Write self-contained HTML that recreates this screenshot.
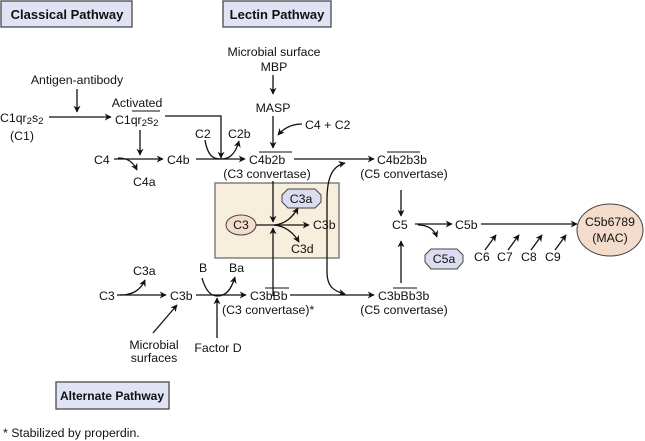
<!DOCTYPE html>
<html><head><meta charset="utf-8"><style>
html,body{margin:0;padding:0;background:#fff;}
svg{display:block;}
text{font-family:"Liberation Sans",sans-serif;font-size:12.3px;fill:#111;}
.b{font-weight:bold;font-size:13px;}
</style></head><body>
<svg width="645" height="441" viewBox="0 0 645 441" xmlns="http://www.w3.org/2000/svg">
<defs>
<marker id="a" viewBox="0 0 10 10" refX="9" refY="5" markerWidth="7" markerHeight="7" orient="auto-start-reverse" markerUnits="userSpaceOnUse"><path d="M0,0 L10,5 L0,10 L3,5 z" fill="#111"/></marker>
</defs>
<g stroke="#111" stroke-width="1.4" fill="none">
<rect x="1" y="1" width="131" height="26" fill="#dfe3f3" stroke="#555"/>
<rect x="223" y="1" width="108" height="26" fill="#dfe3f3" stroke="#555"/>
<rect x="56" y="382" width="113" height="27" fill="#dfe3f3" stroke="#555"/>
<rect x="215" y="183" width="124" height="75" fill="#f8eedc" stroke="#777"/>
</g>
<text class="b" x="67" y="19" text-anchor="middle">Classical Pathway</text>
<text class="b" x="277" y="19" text-anchor="middle">Lectin Pathway</text>
<text class="b" x="112" y="400" text-anchor="middle" style="font-size:12px">Alternate Pathway</text>

<g stroke="#111" stroke-width="1.3" fill="none">
<line x1="273" y1="75" x2="273" y2="94" marker-end="url(#a)"/>
<line x1="273" y1="116" x2="273" y2="148" marker-end="url(#a)"/>
<path d="M302,124 C292,124 284,128 278,135" marker-end="url(#a)"/>
<line x1="77" y1="89" x2="77" y2="112" marker-end="url(#a)"/>
<line x1="49" y1="117" x2="111" y2="117" marker-end="url(#a)"/>
<path d="M165,116 L221,116 L221,158" marker-end="url(#a)"/>
<line x1="140" y1="130" x2="140" y2="155" marker-end="url(#a)"/>
<line x1="114" y1="159" x2="163" y2="159" marker-end="url(#a)"/>
<path d="M118,158 C128,158 133,162 137,170" marker-end="url(#a)"/>
<line x1="196" y1="159" x2="245" y2="159" marker-end="url(#a)"/>
<path d="M205,140 C208,158 215,159 221,159 C229,159 235,155 239,141" marker-end="url(#a)"/>
<line x1="294" y1="159" x2="374" y2="159" marker-end="url(#a)"/>
<line x1="273" y1="181" x2="273" y2="222" marker-end="url(#a)"/>
<line x1="273" y1="296" x2="273" y2="228" marker-end="url(#a)"/>
<line x1="256" y1="225" x2="309" y2="225" marker-end="url(#a)"/>
<path d="M274,225 C285,224 292,218 298,208" marker-end="url(#a)"/>
<path d="M274,225 C285,226 293,232 299,242" marker-end="url(#a)"/>
<path d="M345,163 C332,166 327,178 327,200 L327,272 C327,286 333,291 345,294" marker-start="url(#a)" marker-end="url(#a)"/>
<line x1="401" y1="190" x2="401" y2="216" marker-end="url(#a)"/>
<line x1="401" y1="283" x2="401" y2="241" marker-end="url(#a)"/>
<line x1="415" y1="224" x2="452" y2="224" marker-end="url(#a)"/>
<path d="M418,225 C428,225 434,229 437,237" marker-end="url(#a)"/>
<line x1="481" y1="224" x2="577" y2="224" marker-end="url(#a)"/>
<line x1="485" y1="250" x2="496" y2="235" marker-end="url(#a)"/>
<line x1="508" y1="250" x2="519" y2="235" marker-end="url(#a)"/>
<line x1="531" y1="250" x2="542" y2="235" marker-end="url(#a)"/>
<line x1="555" y1="250" x2="566" y2="235" marker-end="url(#a)"/>
<line x1="117" y1="295" x2="166" y2="295" marker-end="url(#a)"/>
<path d="M120,295 C132,295 140,291 145,280" marker-end="url(#a)"/>
<line x1="196" y1="295" x2="246" y2="295" marker-end="url(#a)"/>
<path d="M202,278 C206,292 212,296 217,296 C226,296 231,290 235,277" marker-end="url(#a)"/>
<line x1="217" y1="338" x2="217" y2="298" marker-end="url(#a)"/>
<line x1="153" y1="333" x2="177" y2="305" marker-end="url(#a)"/>
<line x1="290" y1="295" x2="374" y2="295" marker-end="url(#a)"/>
<line x1="132" y1="111" x2="160" y2="111" stroke-width="1"/>
<line x1="259" y1="152" x2="292" y2="152" stroke-width="1"/>
<line x1="387" y1="152" x2="420" y2="152" stroke-width="1"/>
<line x1="265" y1="288" x2="289" y2="288" stroke-width="1"/>
<line x1="393" y1="288" x2="417" y2="288" stroke-width="1"/>
</g>
<g stroke="#444" stroke-width="1">
<ellipse cx="241" cy="225" rx="15" ry="10" fill="#f3dccb"/>
<polygon points="288,189 315,189 321,195 321,202 315,208 288,208 282,202 282,195" fill="#dcdcf0"/>
<polygon points="431,249 457,249 463,255 463,262 457,269 431,269 425,262 425,255" fill="#dcdcf0"/>
<ellipse cx="610" cy="230" rx="33" ry="26" fill="#f3dccb"/>
</g>
<text x="274" y="56" text-anchor="middle">Microbial surface</text>
<text x="274" y="71" text-anchor="middle">MBP</text>
<text x="273" y="112" text-anchor="middle">MASP</text>
<text x="305" y="129">C4 +  C2</text>
<text x="77" y="84" text-anchor="middle">Antigen-antibody</text>
<text x="0" y="122">C1qr<tspan font-size="9.5" dy="2">2</tspan><tspan dy="-2">s</tspan><tspan font-size="9.5" dy="2">2</tspan></text>
<text x="22" y="140" text-anchor="middle">(C1)</text>
<text x="137" y="107" text-anchor="middle">Activated</text>
<text x="115" y="124">C1qr<tspan font-size="9.5" dy="2">2</tspan><tspan dy="-2">s</tspan><tspan font-size="9.5" dy="2">2</tspan></text>
<text x="94" y="164">C4</text>
<text x="167" y="164">C4b</text>
<text x="133" y="186">C4a</text>
<text x="195" y="138">C2</text>
<text x="228" y="138">C2b</text>
<text x="249" y="164">C4b2b</text>
<text x="267" y="178" text-anchor="middle">(C3 convertase)</text>
<text x="377" y="164">C4b2b3b</text>
<text x="404" y="178" text-anchor="middle">(C5 convertase)</text>
<text x="241" y="229" text-anchor="middle">C3</text>
<text x="301" y="203" text-anchor="middle">C3a</text>
<text x="313" y="229">C3b</text>
<text x="291" y="253">C3d</text>
<text x="392" y="229">C5</text>
<text x="455" y="229">C5b</text>
<text x="444" y="263" text-anchor="middle">C5a</text>
<text x="610" y="226" text-anchor="middle">C5b6789</text>
<text x="610" y="242" text-anchor="middle">(MAC)</text>
<text x="474" y="261">C6</text>
<text x="497" y="261">C7</text>
<text x="521" y="261">C8</text>
<text x="545" y="261">C9</text>
<text x="99" y="300">C3</text>
<text x="170" y="300">C3b</text>
<text x="133" y="275">C3a</text>
<text x="199" y="272">B</text>
<text x="229" y="272">Ba</text>
<text x="250" y="300">C3bBb</text>
<text x="222" y="314">(C3 convertase)*</text>
<text x="378" y="300">C3bBb3b</text>
<text x="404" y="314" text-anchor="middle">(C5 convertase)</text>
<text x="218" y="352" text-anchor="middle">Factor D</text>
<text x="154" y="349" text-anchor="middle">Microbial</text>
<text x="154" y="362" text-anchor="middle">surfaces</text>
<text x="3" y="437">* Stabilized by properdin.</text>
</svg>
</body></html>
